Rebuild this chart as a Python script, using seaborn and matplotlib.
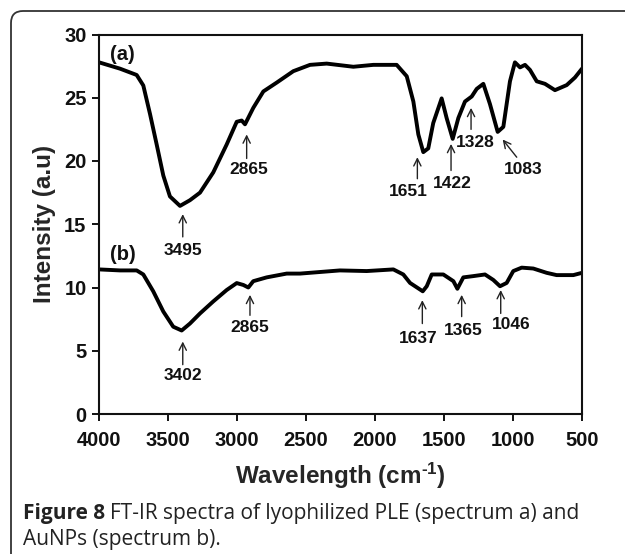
import numpy as np
import pandas as pd
import matplotlib
matplotlib.use("Agg")
import matplotlib.pyplot as plt
import seaborn as sns
from matplotlib.patches import FancyBboxPatch
from matplotlib.transforms import IdentityTransform

# ---- data ----
wn_a = [4000, 3848, 3727, 3679, 3630, 3582, 3534, 3486, 3413, 3341, 3268, 3172, 3075,
        3002, 2966, 2942, 2882, 2809, 2712, 2592, 2471, 2350, 2157, 2012, 1843, 1770,
        1722, 1686, 1650, 1614, 1578, 1517, 1481, 1437, 1396, 1348, 1299, 1263, 1215,
        1167, 1111, 1070, 1022, 986, 949, 913, 877, 828, 768, 696, 611, 551, 500]
int_a = [27.8, 27.3, 26.8, 25.97, 23.7, 21.3, 18.85, 17.2, 16.45, 16.9, 17.5, 19.1, 21.3,
         23.1, 23.2, 22.9, 24.2, 25.5, 26.2, 27.1, 27.6, 27.7, 27.45, 27.6, 27.6, 26.7,
         24.7, 22.1, 20.7, 21.0, 23.0, 24.95, 23.4, 21.75, 23.4, 24.7, 25.1, 25.7, 26.1,
         24.5, 22.3, 22.7, 26.3, 27.8, 27.4, 27.6, 27.2, 26.3, 26.1, 25.6, 26.0, 26.6, 27.3]

wn_b = [4000, 3848, 3727, 3679, 3607, 3534, 3462, 3401, 3341, 3268, 3172, 3075, 3002,
        2954, 2918, 2882, 2785, 2640, 2543, 2254, 2060, 1867, 1795, 1746, 1654, 1625,
        1589, 1505, 1432, 1403, 1360, 1288, 1203, 1143, 1094, 1046, 998, 937, 853,
        756, 684, 563, 500]
int_b = [11.43, 11.35, 11.35, 11.03, 9.7, 8.1, 6.9, 6.6, 7.15, 7.95, 8.9, 9.8, 10.35,
         10.2, 10.0, 10.5, 10.8, 11.1, 11.1, 11.35, 11.3, 11.43, 11.03, 10.36, 9.7, 10.1,
         11.03, 11.03, 10.5, 9.9, 10.8, 10.9, 11.03, 10.6, 10.1, 10.36, 11.3, 11.57, 11.5,
         11.16, 10.98, 10.98, 11.16]

# peak annotations: label, arrow head (x, y), arrow tail (x, y), text (x, y)
peak_labels = ["3495", "2865", "1651", "1422", "1328", "1083",
               "3402", "2865", "1637", "1365", "1046"]
head_x = [3393, 2930, 1693, 1449, 1304, 1075, 3393, 2906, 1657, 1372, 1089]
head_y = [15.8, 22.1, 20.3, 21.35, 24.2, 21.7, 5.73, 9.42, 9.0, 9.42, 9.8]
tail_x = [3393, 2930, 1693, 1449, 1304, 973, 3393, 2906, 1657, 1372, 1089]
tail_y = [14.0, 20.2, 18.6, 19.25, 22.5, 20.3, 3.9, 7.8, 7.15, 7.7, 7.95]
text_x = [3393, 2918, 1758, 1437, 1270, 925, 3393, 2906, 1686, 1360, 1010]
text_y = [12.9, 19.3, 17.6, 18.2, 21.5, 19.35, 3.05, 6.8, 6.0, 6.6, 7.05]

series_labels = ["(a)", "(b)"]
series_label_x = [3830, 3830]
series_label_y = [28.4, 12.6]

x_ticks = [4000, 3500, 3000, 2500, 2000, 1500, 1000, 500]
y_ticks = [0, 5, 10, 15, 20, 25, 30]

df = pd.concat([
    pd.DataFrame({"wn": wn_a, "I": int_a, "s": "a"}),
    pd.DataFrame({"wn": wn_b, "I": int_b, "s": "b"}),
])

sns.set_theme(style="ticks")
plt.rcParams["font.family"] = ["Liberation Sans", "DejaVu Sans"]
plt.rcParams["mathtext.fontset"] = "custom"
plt.rcParams["mathtext.rm"] = "Liberation Sans:bold"
plt.rcParams["mathtext.bf"] = "Liberation Sans:bold"
plt.rcParams["mathtext.it"] = "Liberation Sans:bold"

W, H = 625, 554
fig = plt.figure(figsize=(W / 100, H / 100), dpi=100)
fig.patch.set_facecolor("white")
ax = fig.add_axes([99 / W, 1 - 414 / H, (582 - 99) / W, (414 - 34.5) / H])

sns.lineplot(data=df, x="wn", y="I", units="s", estimator=None, sort=False,
             color="black", lw=2.8, ax=ax, legend=False)

ax.set_xlim(4000, 500)
ax.set_ylim(0, 30)
ax.set_xticks(x_ticks)
ax.set_yticks(y_ticks)
ax.set_xticklabels([str(t) for t in x_ticks], fontsize=14.5, fontweight="bold")
ax.set_yticklabels([str(t) for t in y_ticks], fontsize=14.5, fontweight="bold")
for sp in ax.spines.values():
    sp.set_visible(True)
    sp.set_linewidth(1.5)
    sp.set_color("#111111")
ax.tick_params(axis="both", direction="out", length=5, width=1.4, colors="#111111")
ax.tick_params(axis="x", pad=7)
ax.tick_params(axis="y", pad=4)
ax.set_xlabel(r"Wavelength (cm$^{\text{-1}}$)", fontsize=17.5, fontweight="bold",
              labelpad=8)
ax.set_ylabel("Intensity (a.u)", fontsize=17.5, fontweight="bold", labelpad=6)

for lab, hx, hy, tx0, ty0, tx, ty in zip(peak_labels, head_x, head_y, tail_x, tail_y,
                                          text_x, text_y):
    ax.annotate("", xy=(hx, hy), xytext=(tx0, ty0),
                arrowprops=dict(arrowstyle="->", lw=1.0, color="#222222",
                                shrinkA=0, shrinkB=0, mutation_scale=13))
    ax.text(tx, ty, lab, ha="center", va="center", fontsize=12.5, fontweight="bold",
            color="#111111")

for lab, lx, ly in zip(series_labels, series_label_x, series_label_y):
    ax.text(lx, ly, lab, ha="center", va="center", fontsize=14.5, fontweight="bold",
            color="#111111")

# outer rounded frame (cropped at right and bottom like the reference)
frame = FancyBboxPatch((11, -40), 800, H - 11 + 40, boxstyle="round,pad=0,rounding_size=12",
                       transform=IdentityTransform(), fill=False, ec="#333333", lw=1.3)
fig.patches.append(frame)

# caption
cap_font = ["Open Sans", "DejaVu Sans"]
cap_x = 23 / W
t1 = fig.text(cap_x, 1 - 513 / H, "Figure 8", fontsize=15, fontweight="bold",
              family=cap_font, va="center", color="#222222")
fig.canvas.draw()
r = fig.canvas.get_renderer()
bb = t1.get_window_extent(r)
fig.text(bb.x1 / W + 5 / W, 1 - 513 / H,
         "FT-IR spectra of lyophilized PLE (spectrum a) and", fontsize=15,
         family=cap_font, va="center", color="#222222")
fig.text(cap_x, 1 - 539 / H, "AuNPs (spectrum b).", fontsize=15,
         family=cap_font, va="center", color="#222222")

fig.savefig("out.png", dpi=100)
